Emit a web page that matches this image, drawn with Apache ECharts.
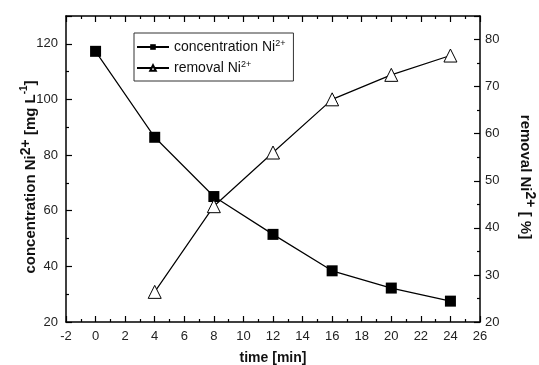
<!DOCTYPE html>
<html>
<head>
<meta charset="utf-8">
<script src="https://cdn.jsdelivr.net/npm/echarts@6/dist/echarts.min.js"></script>
<style>
html,body{margin:0;padding:0;background:#fff;}
#chart{width:539px;height:365px;}
</style>
</head>
<body>
<div id="chart"></div>
<script>
// data
var timeConc = [0, 4, 8, 12, 16, 20, 24];
var concentration = [117.3, 86.4, 65.1, 51.5, 38.4, 32.2, 27.5];
var timeRemoval = [4, 8, 12, 16, 20, 24];
var removal = [26.4, 44.6, 56.0, 67.3, 72.5, 76.6];

var pairs = function(xs, ys){
	var out = [];
	for (var i = 0; i < xs.length; i++) out.push([xs[i], ys[i]]);
	return out;
};

var font = 'Liberation Sans, Arial, sans-serif';
var labelStyle = {color: '#222', fontSize: 13, fontFamily: font};
var nameRich = {
	t: {fontSize: 15, fontWeight: 'bold', fontFamily: font, color: '#111'},
	e: {fontSize: 15, fontWeight: 'bold', fontFamily: font, color: '#111', padding: [0, 16, 0, 0]},
	b: {fontSize: 15, fontWeight: 'bold', fontFamily: font, color: '#111', padding: [0, 0, 0, 16]},
	s: {fontSize: 14, fontWeight: 'bold', fontFamily: font, color: '#111', verticalAlign: 'top', padding: [0, 0, 10, 0]},
	ss: {fontSize: 10, fontWeight: 'bold', fontFamily: font, color: '#111', verticalAlign: 'top', padding: [0, 0, 8, 0]}
};
var legendRich = {
	t: {fontSize: 14, fontFamily: font, color: '#111'},
	s: {fontSize: 9, fontFamily: font, color: '#111', verticalAlign: 'top', padding: [0, 0, 7, 0]}
};

var axisLine = {show: true, onZero: false, lineStyle: {color: '#000', width: 1.5}};

var myChart = echarts.init(document.getElementById('chart'));
var option = {
	backgroundColor: '#fff',
	animation: false,
	grid: {left: 66, right: 59, top: 16, bottom: 43, containLabel: false, outerBoundsMode: 'none'},
	legend: {
		orient: 'vertical',
		left: 134,
		top: 33,
		padding: [6, 8, 6, 2],
		itemGap: 6,
		itemWidth: 32,
		itemHeight: 7,
		borderColor: '#333',
		borderWidth: 1,
		data: ['concentration', 'removal'],
		textStyle: {fontSize: 14, rich: legendRich},
		formatter: function(name){
			return name == 'concentration' ? '{t|concentration Ni}{s|2+}' : '{t|removal Ni}{s|2+}';
		}
	},
	xAxis: [
		{
			type: 'value', min: -2, max: 26, interval: 2,
			name: 'time [min]', nameLocation: 'middle', nameGap: 29, nameMoveOverlap: false,
			nameTextStyle: {fontSize: 14, fontWeight: 'bold', fontFamily: font, color: '#111'},
			axisLine: axisLine,
			axisTick: {inside: true, length: 6, lineStyle: {color: '#000', width: 1.2}},
			minorTick: {show: true, splitNumber: 2, length: 3, lineStyle: {color: '#000', width: 1.2}},
			axisLabel: labelStyle,
			splitLine: {show: false}
		},
		{
			type: 'value', min: -2, max: 26, interval: 2, position: 'top',
			axisLine: axisLine,
			axisTick: {inside: true, length: 6, lineStyle: {color: '#000', width: 1.2}},
			minorTick: {show: true, splitNumber: 2, length: 3, lineStyle: {color: '#000', width: 1.2}},
			axisLabel: {show: false},
			splitLine: {show: false}
		}
	],
	yAxis: [
		{
			type: 'value', min: 20, max: 130, interval: 20,
			name: '{t|concentration Ni}{s|2+}{t| [mg L}{ss|-1}{e|]}',
			nameLocation: 'middle', nameGap: 23, nameMoveOverlap: false,
			nameTextStyle: {rich: nameRich},
			axisLine: axisLine,
			axisTick: {inside: true, length: 6, lineStyle: {color: '#000', width: 1.2}},
			minorTick: {show: true, splitNumber: 2, length: 3, lineStyle: {color: '#000', width: 1.2}},
			axisLabel: {color: '#222', fontSize: 13, fontFamily: font, showMaxLabel: false, margin: 8},
			splitLine: {show: false}
		},
		{
			type: 'value', min: 20, max: 85, interval: 10, position: 'right',
			name: '{b|removal Ni}{s|2+}{t|\u00a0[ %]}',
			nameLocation: 'middle', nameGap: 33, nameRotate: -90, nameMoveOverlap: false,
			nameTextStyle: {rich: nameRich},
			axisLine: axisLine,
			axisTick: {inside: true, length: 6, lineStyle: {color: '#000', width: 1.2}},
			minorTick: {show: true, splitNumber: 2, length: 3, lineStyle: {color: '#000', width: 1.2}},
			axisLabel: {color: '#222', fontSize: 13, fontFamily: font, showMaxLabel: false, margin: 5},
			splitLine: {show: false}
		}
	],
	series: [
		{
			name: 'concentration',
			type: 'line',
			yAxisIndex: 0,
			data: pairs(timeConc, concentration),
			symbol: 'rect',
			symbolSize: 11,
			color: '#000',
			itemStyle: {color: '#000'},
			lineStyle: {color: '#000', width: 1.2}
		},
		{
			name: 'removal',
			type: 'line',
			yAxisIndex: 1,
			data: pairs(timeRemoval, removal),
			symbol: 'triangle',
			symbolSize: 13,
			color: '#000',
			itemStyle: {color: '#fff', borderColor: '#000', borderWidth: 1},
			lineStyle: {color: '#000', width: 1.2}
		}
	]
};
if (option && typeof option === "object") {
	myChart.setOption(option, true);
}
</script>
</body>
</html>
